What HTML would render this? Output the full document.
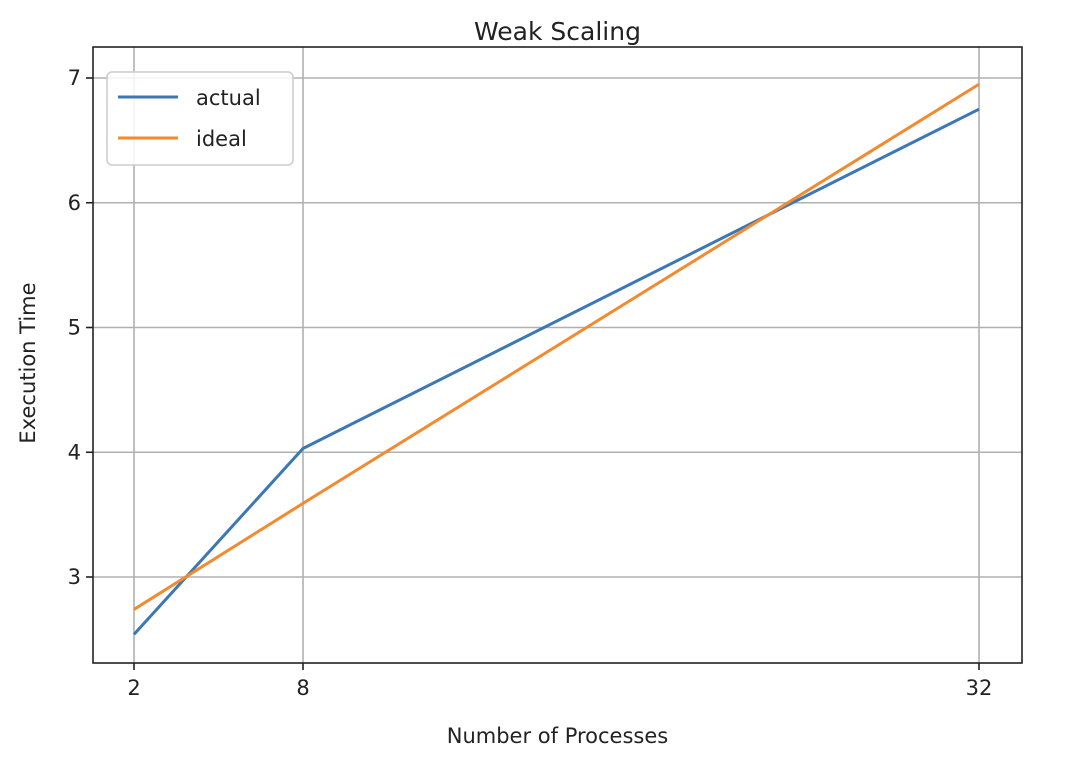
<!DOCTYPE html>
<html><head><meta charset="utf-8"><style>
body{margin:0;background:#fff;font-family:"DejaVu Sans","Liberation Sans",sans-serif;}
svg text{font-family:"DejaVu Sans","Liberation Sans",sans-serif;fill:#222;}
</style></head><body>
<svg id="chart" width="1090" height="760"></svg>
<script>
const categories=[2,8,32];
const actualValues=[2.54,4.03,6.75];
const idealValues=[2.74,3.59,6.95];
const xTicks=[2,8,32];
const yTicks=[3,4,5,6,7];
const NS="http://www.w3.org/2000/svg";
const svg=document.getElementById('chart');
const L=93,R=1022,T=47,B=663;
function xs(v){return 134+(v-2)*(979-134)/30;}
function ys(v){return 577-(v-3)*124.75;}
function mk(tag,attrs,parent){const e=document.createElementNS(NS,tag);for(const k in attrs)e.setAttribute(k,attrs[k]);(parent||svg).appendChild(e);return e;}
const grid=mk('g',{});


xTicks.forEach(t=>{
 const l=mk('line',{x1:xs(t),x2:xs(t),y1:T,y2:B,stroke:'#b0b0b0','stroke-width':1.6},grid);
 
 
 mk('line',{x1:xs(t),x2:xs(t),y1:B,y2:B+7,stroke:'#222','stroke-width':1.6});
 const tx=mk('text',{x:xs(t),y:B+32,'text-anchor':'middle','font-size':21});
 tx.textContent=t;
 
 
});
yTicks.forEach(t=>{
 const l=mk('line',{x1:L,x2:R,y1:ys(t),y2:ys(t),stroke:'#b0b0b0','stroke-width':1.6},grid);
 
 
 mk('line',{x1:L-7,x2:L,y1:ys(t),y2:ys(t),stroke:'#222','stroke-width':1.6});
 const tx=mk('text',{x:L-12,y:ys(t)+7,'text-anchor':'end','font-size':21});
 tx.textContent=t;
 
 
});
function series(vals,color,name){
 const p=mk('polyline',{points:categories.map((c,i)=>xs(c)+','+ys(vals[i])).join(' '),fill:'none',stroke:color,'stroke-width':3});
 
 
}
series(actualValues,'#3b78b5','actual-line');
series(idealValues,'#f28a30','ideal-line');
const frame=mk('rect',{x:L,y:T,width:R-L,height:B-T,fill:'none',stroke:'#222','stroke-width':1.6});


const title=mk('text',{x:(L+R)/2,y:40,'text-anchor':'middle','font-size':25});
title.textContent='Weak Scaling';


const xt=mk('text',{x:(L+R)/2,y:743,'text-anchor':'middle','font-size':21});
xt.textContent='Number of Processes';


const yt=mk('text',{x:0,y:0,'text-anchor':'middle','font-size':21,transform:'translate(35,363) rotate(-90)'});
yt.textContent='Execution Time';


const lg=mk('g',{});


mk('rect',{x:107,y:72,width:186,height:93,rx:5,fill:'#fff','fill-opacity':0.85,stroke:'#ccc','stroke-width':1.5},lg);
[['actual','#3b78b5',97],['ideal','#f28a30',138]].forEach(([n,c,y])=>{
 const e=mk('line',{x1:118,x2:178,y1:y,y2:y,stroke:c,'stroke-width':3},lg);
 
 
 const t=mk('text',{x:196,y:y+8,'font-size':21},lg);
 t.textContent=n;
 
 
});
</script>
</body></html>
